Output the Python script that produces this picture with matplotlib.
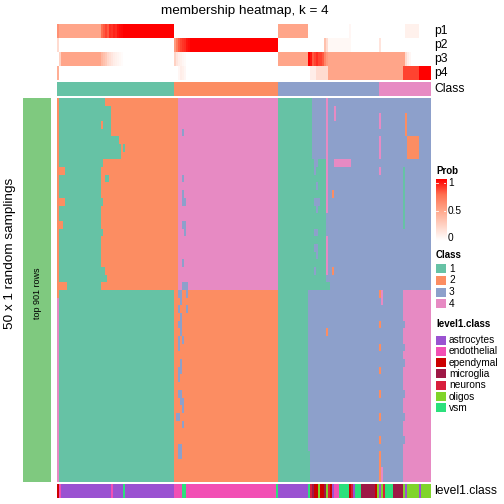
import numpy as np
import matplotlib
matplotlib.use("Agg")
import matplotlib.pyplot as plt
from matplotlib.colors import ListedColormap, LinearSegmentedColormap

plt.rcParams['font.family'] = ['Liberation Sans', 'DejaVu Sans']

# ---- data ----
n_cols = 186
class_sizes = [58, 52, 50, 26]          # samples per consensus class (columns)
class_colors = ["#66C2A5", "#FC8D62", "#8DA0CB", "#E78AC3"]

# membership probabilities, run-length coded as (n columns, value)
p1_runs = [(1, 0.6), (21, 0.5),
           (1, 0.75), (1, 0.8), (1, 0.85), (1, 0.8), (1, 0.9), (1, 0.88),
           (1, 0.92), (1, 0.9), (1, 0.95), (1, 0.97), (1, 0.98),
           (25, 1.0), (52, 0.0), (15, 0.5), (20, 0.0), (1, 0.05), (27, 0.0),
           (7, 0.08), (6, 0.0)]
p2_runs = [(1, 0.2), (57, 0.0),
           (1, 0.55), (1, 0.7), (1, 0.8), (1, 0.85), (1, 0.88), (1, 0.9),
           (1, 0.95), (1, 0.97),
           (44, 1.0), (23, 0.0), (1, 0.35), (1, 0.2), (11, 0.04), (14, 0.0),
           (1, 0.15), (25, 0.0)]
p3_runs = [(1, 0.0), (1, 0.25), (20, 0.5),
           (1, 0.4), (1, 0.35), (1, 0.3), (1, 0.22), (1, 0.18), (1, 0.14),
           (1, 0.1), (1, 0.08), (1, 0.06), (1, 0.04), (1, 0.02),
           (25, 0.0),
           (1, 0.25), (1, 0.15), (1, 0.1), (1, 0.08), (1, 0.05), (1, 0.03),
           (46, 0.0), (15, 0.5),
           (1, 1.0), (1, 0.95), (1, 0.8), (1, 0.85), (1, 0.9), (1, 0.85),
           (1, 0.85), (1, 0.8), (1, 0.65), (1, 0.55),
           (38, 0.5), (1, 0.2), (1, 0.1), (1, 0.05), (10, 0.0)]
p4_runs = [(1, 0.45), (59, 0.0), (1, 0.05), (1, 0.1), (1, 0.08), (1, 0.05),
           (62, 0.0), (3, 0.1), (6, 0.2), (37, 0.5), (8, 0.85), (6, 1.0)]

# main heatmap: 50 samplings; top 25 and bottom 25 rows follow two patterns
top_left_orange = [1, 1, 1, 1, 1, 1, 1, 1, 1, 4, 1, 1, 1, 4, 1, 1, 3, 1, 1, 1,
                   1, 1, 1, 1, 5]
top_green_end = [24, 27, 27, 27, 27, 31, 32, 32, 23, 22, 22, 22, 22, 23, 22,
                 22, 22, 23, 22, 22, 22, 22, 24, 25, 22]
top_green2_end = [127, 127, 127, 127, 127, 127, 127, 127, 134, 134, 134, 134,
                  134, 134, 134, 134, 134, 134, 134, 134, 134, 134, 134, 134,
                  134]
bottom_green2_end = [125, 125, 125, 125, 125, 125, 125, 125, 125, 125, 125,
                     125, 125, 125, 125, 125, 125, 125, 125, 125, 125, 126,
                     126, 126, 126]
bottom_pink_start = [172, 172, 172, 172, 173, 172, 172, 173, 172, 173, 172,
                     172, 172, 173, 172, 172, 173, 172, 172, 173, 172, 172,
                     172, 172, 172]

# isolated deviations: (row, first col, last col + 1, class)
specks = [
    (3, 22, 23, 2), (6, 33, 34, 1), (10, 24, 26, 1),
    (4, 62, 63, 3), (10, 62, 63, 3), (12, 62, 63, 3), (13, 62, 64, 3),
    (16, 62, 64, 3), (17, 63, 64, 3), (21, 62, 63, 3), (24, 62, 65, 3),
    (8, 128, 130, 3), (9, 128, 129, 3), (11, 129, 130, 3), (13, 128, 131, 3),
    (14, 129, 130, 3), (17, 128, 130, 3), (19, 128, 130, 3),
    (20, 129, 130, 3), (22, 128, 129, 3),
    (0, 134, 135, 4), (1, 134, 135, 4), (2, 134, 135, 4), (3, 134, 135, 4),
    (4, 134, 135, 4), (5, 134, 135, 4), (6, 134, 135, 4), (7, 134, 135, 4),
    (8, 134, 135, 4), (9, 134, 135, 4), (10, 134, 135, 4), (11, 134, 135, 4),
    (12, 134, 135, 4), (13, 134, 135, 4), (14, 134, 135, 4),
    (18, 134, 135, 4), (19, 134, 135, 4), (20, 134, 135, 4),
    (21, 134, 135, 4), (22, 134, 135, 4),
    (8, 138, 146, 4), (1, 138, 139, 4), (2, 138, 139, 4),
    (5, 174, 180, 2), (6, 174, 180, 2), (7, 174, 180, 2),
    (2, 173, 174, 2), (3, 173, 174, 2), (4, 173, 174, 2),
    (9, 172, 173, 1), (10, 172, 173, 1), (11, 172, 173, 1), (12, 172, 173, 1),
    (13, 172, 173, 1), (14, 172, 173, 1), (15, 172, 173, 1), (16, 172, 173, 1),
    (12, 137, 138, 2), (22, 137, 138, 2), (24, 134, 136, 1),
    (2, 160, 161, 4), (3, 160, 161, 4), (5, 160, 161, 4), (6, 160, 161, 4),
    (7, 160, 161, 4), (9, 160, 161, 4),
    # bottom half
    (25, 0, 1, 2),
    (25, 60, 62, 3), (25, 64, 65, 3), (26, 61, 62, 3), (27, 60, 61, 3),
    (27, 64, 65, 3), (28, 61, 62, 3), (29, 60, 62, 3), (30, 61, 62, 3),
    (31, 60, 61, 3), (31, 62, 63, 3), (32, 60, 61, 3), (34, 61, 62, 3),
    (35, 60, 62, 3), (36, 60, 61, 3), (38, 60, 62, 3), (39, 61, 63, 3),
    (40, 62, 63, 3), (41, 59, 61, 3), (42, 62, 63, 3), (45, 60, 62, 3),
    (46, 60, 62, 3),
    (25, 160, 161, 2), (29, 160, 161, 2), (32, 160, 161, 2),
    (35, 160, 161, 2), (38, 160, 161, 2), (41, 160, 161, 2),
    (44, 160, 161, 2), (46, 160, 161, 2), (47, 160, 161, 2),
    (48, 160, 161, 2), (49, 160, 161, 2),
    (25, 161, 162, 4), (26, 161, 162, 4), (48, 161, 162, 4),
    (49, 161, 162, 4), (30, 134, 135, 2),
]

level1_names = ["astrocytes", "endothelial", "ependymal", "microglia",
                "neurons", "oligos", "vsm"]
level1_colors = ["#9A52D1", "#F24FB4", "#CC0000", "#9E1846", "#D81E3C",
                 "#80D42A", "#2CE07C"]
level1_runs = [
    ("ependymal", 1), ("endothelial", 1), ("astrocytes", 25),
    ("endothelial", 1), ("astrocytes", 5), ("vsm", 1), ("astrocytes", 24),
    ("endothelial", 4), ("vsm", 2), ("endothelial", 45), ("vsm", 1),
    ("astrocytes", 15), ("vsm", 1), ("neurons", 1), ("microglia", 1),
    ("ependymal", 2), ("oligos", 1), ("ependymal", 2), ("microglia", 1),
    ("oligos", 1), ("neurons", 1), ("ependymal", 1), ("astrocytes", 1),
    ("endothelial", 2), ("vsm", 5), ("ependymal", 1), ("neurons", 1),
    ("astrocytes", 1), ("vsm", 3), ("microglia", 7), ("ependymal", 1),
    ("oligos", 1), ("astrocytes", 1), ("oligos", 1), ("neurons", 1),
    ("vsm", 4), ("microglia", 5), ("oligos", 1), ("astrocytes", 1),
    ("oligos", 6), ("astrocytes", 1), ("oligos", 5)]


def runs_to_array(runs):
    return np.concatenate([np.full(n, v, dtype=float) for n, v in runs])


probs = np.vstack([runs_to_array(r) for r in (p1_runs, p2_runs, p3_runs, p4_runs)])
classes = np.concatenate([np.full(n, k + 1) for k, n in enumerate(class_sizes)])
level1 = np.concatenate([np.full(n, level1_names.index(nm)) for nm, n in level1_runs])

# build the membership matrix
mat = np.zeros((50, n_cols), dtype=int)
for r in range(25):
    row = mat[r]
    row[:] = 3
    row[:top_left_orange[r]] = 2
    row[top_left_orange[r]:top_green_end[r]] = 1
    row[top_green_end[r]:60] = 2
    row[60:110] = 4
    row[110:top_green2_end[r]] = 1
for i in range(25):
    row = mat[25 + i]
    row[0] = 4
    row[1:58] = 1
    row[58:110] = 2
    row[110:bottom_green2_end[i]] = 1
    row[bottom_green2_end[i]:bottom_pink_start[i]] = 3
    row[bottom_pink_start[i]:] = 4
for r, c0, c1, k in specks:
    mat[r, c0:c1] = k

# ---- drawing ----
W = H = 504
fig = plt.figure(figsize=(5.04, 5.04), dpi=100)


def box(x0, y0, x1, y1):
    ax = fig.add_axes([x0 / W, 1 - y1 / H, (x1 - x0) / W, (y1 - y0) / H])
    ax.set_axis_off()
    return ax


def label(x, y, s, **kw):
    fig.text(x / W, 1 - y / H, s, va="center", **kw)


prob_cmap = LinearSegmentedColormap.from_list(
    "prob", [(0, "#FFFFFF"), (0.25, "#FFD3C5"), (0.5, "#FFA68A"),
             (0.75, "#FF7152"), (1, "#FF0000")])
class_cmap = ListedColormap(class_colors)
lvl_cmap = ListedColormap(level1_colors)

ax = box(57, 24, 430, 80)
ax.imshow(probs, cmap=prob_cmap, vmin=0, vmax=1, aspect="auto",
          interpolation="nearest")
ax = box(57, 82, 430, 96)
ax.imshow(classes[None, :], cmap=class_cmap, vmin=0.5, vmax=4.5,
          aspect="auto", interpolation="nearest")
ax = box(57, 98, 430, 482)
ax.imshow(mat, cmap=class_cmap, vmin=0.5, vmax=4.5, aspect="auto",
          interpolation="nearest")
ax = box(57, 484, 430, 498)
ax.imshow(level1[None, :], cmap=lvl_cmap, vmin=-0.5, vmax=6.5,
          aspect="auto", interpolation="nearest")

# left row annotation
ax = box(23, 98, 51, 482)
ax.add_patch(plt.Rectangle((0, 0), 1, 1, color="#7FC97F"))
ax.set_xlim(0, 1)
ax.set_ylim(0, 1)
label(37, 293, "top 901 rows", rotation=90, ha="center", fontsize=6.5)
label(10.5, 253, "50 x 1 random samplings", rotation=90, ha="center",
      fontsize=9.7)

fig.text(245 / W, 1 - 11 / H, "membership heatmap, k = 4", ha="center",
         va="center", fontsize=9.7)

for i, nm in enumerate(["p1", "p2", "p3", "p4"]):
    label(434, 31 + 14 * i, nm, fontsize=8.7)
label(434, 89, "Class", fontsize=8.7)
label(434, 491, "level1.class", fontsize=8.7)

# legends
label(436, 171, "Prob", fontsize=7, fontweight="bold")
ax = box(436, 179, 446, 241)
ax.imshow(np.linspace(1, 0, 100)[:, None], cmap=prob_cmap, vmin=0, vmax=1,
          aspect="auto", extent=(0, 1, 0, 1))
ax.set_xlim(0, 1)
ax.set_ylim(0, 1)
for v in (1.0, 0.5):
    yy = (241 - (238 - 55 * v)) / 62
    ax.plot([0, 0.2], [yy, yy], color="white", lw=0.6)
    ax.plot([0.8, 1], [yy, yy], color="white", lw=0.6)
for v, s in [(1.0, "1"), (0.5, "0.5"), (0.0, "0")]:
    label(448, 238 - 55 * v, s, fontsize=7.3)

label(436, 255, "Class", fontsize=7, fontweight="bold")
for i, c in enumerate(class_colors):
    yc = 268.5 + 11.8 * i
    ax = box(436, yc - 4.5, 446, yc + 4.5)
    ax.add_patch(plt.Rectangle((0, 0), 1, 1, color=c))
    ax.set_xlim(0, 1)
    ax.set_ylim(0, 1)
    label(449, yc, str(i + 1), fontsize=7.3)

label(436, 324, "level1.class", fontsize=7, fontweight="bold")
for i, (nm, c) in enumerate(zip(level1_names, level1_colors)):
    yc = 340 + 11.3 * i
    ax = box(436, yc - 4.5, 446, yc + 4.5)
    ax.add_patch(plt.Rectangle((0, 0), 1, 1, color=c))
    ax.set_xlim(0, 1)
    ax.set_ylim(0, 1)
    label(449, yc, nm, fontsize=7.3)

fig.savefig("out.png", dpi=100)
